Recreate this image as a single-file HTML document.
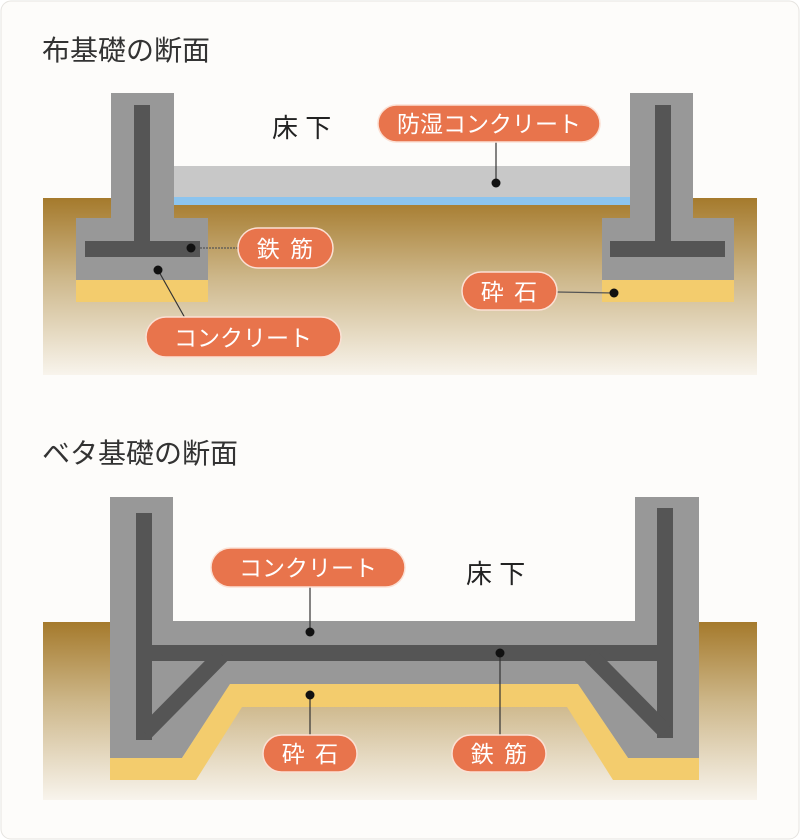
<!DOCTYPE html>
<html><head><meta charset="utf-8"><style>
html,body{margin:0;padding:0;background:#fff;}
svg{display:block;font-family:"Liberation Sans","Noto Sans CJK JP",sans-serif;}
</style></head><body>
<svg width="800" height="840" viewBox="0 0 800 840" xmlns="http://www.w3.org/2000/svg">
<defs>
<linearGradient id="g" x1="0" y1="0" x2="0" y2="1">
<stop offset="0" stop-color="#a57a2c"/><stop offset="0.45" stop-color="#cdb78a"/><stop offset="1" stop-color="#f8f4ec"/>
</linearGradient>
</defs>
<rect x="1" y="1" width="798" height="838" rx="10" fill="#fdfcfa" stroke="#e6e4e0"/>
<text x="42" y="60" font-size="28" fill="#333">布基礎の断面</text>
<rect x="43" y="198" width="714" height="177" fill="url(#g)"/>
<rect x="174" y="166" width="462" height="31" fill="#c8c8c8"/>
<rect x="174" y="197" width="462" height="8" fill="#8cc4ee"/>
<rect x="76" y="280" width="132" height="22" fill="#f3cc6d"/>
<rect x="76" y="218" width="132" height="62" fill="#989898"/>
<rect x="111" y="93" width="63" height="130" fill="#989898"/>
<rect x="134" y="105" width="16" height="145" fill="#555"/>
<rect x="85" y="241" width="115" height="16" fill="#555"/>
<rect x="602" y="280" width="132" height="22" fill="#f3cc6d"/>
<rect x="602" y="218" width="132" height="62" fill="#989898"/>
<rect x="630" y="93" width="63" height="130" fill="#989898"/>
<rect x="655" y="105" width="16" height="145" fill="#555"/>
<rect x="610" y="241" width="115" height="16" fill="#555"/>
<text x="272" y="137" font-size="26" fill="#222">床 下</text>
<line x1="496" y1="140" x2="496" y2="183" stroke="#333" stroke-width="1.2"/>
<circle cx="496" cy="183" r="4.5" fill="#111"/>
<line x1="191" y1="248" x2="238" y2="248" stroke="#555" stroke-width="1.2" stroke-dasharray="2,1"/>
<circle cx="191" cy="248" r="4.5" fill="#111"/>
<line x1="158" y1="270" x2="185" y2="318" stroke="#333" stroke-width="1.2"/>
<circle cx="158" cy="270" r="4.5" fill="#111"/>
<line x1="557" y1="292" x2="614" y2="293" stroke="#555" stroke-width="1.2"/>
<circle cx="614" cy="293" r="4.5" fill="#111"/>
<g font-size="23" fill="#fff" text-anchor="middle" stroke-width="1.5">
<rect x="378" y="105" width="222" height="37" rx="18.5" fill="#e8744c" stroke="#fbe0d4"/><text x="489" y="132">防湿コンクリート</text>
<rect x="238" y="228" width="95" height="40" rx="20" fill="#e8744c" stroke="#fbe0d4"/><text x="286" y="257" letter-spacing="2">鉄 筋</text>
<rect x="146" y="317" width="195" height="40" rx="20" fill="#e8744c" stroke="#fbe0d4"/><text x="243" y="346">コンクリート</text>
<rect x="462" y="272" width="95" height="38" rx="19" fill="#e8744c" stroke="#fbe0d4"/><text x="510" y="300" letter-spacing="2">砕 石</text>
</g>
<text x="42" y="463" font-size="28" fill="#333">ベタ基礎の断面</text>
<rect x="43" y="622" width="714" height="178" fill="url(#g)"/>
<polygon points="110,497 173,497 173,621 635,621 635,497 699,497 699,758 628,758 578,684 230,684 182,758 110,758" fill="#989898"/>
<polygon points="110,758 182,758 230,684 578,684 628,758 699,758 699,780 613,780 567,707 242,707 196,780 110,780" fill="#f3cc6d"/>
<rect x="136" y="513" width="16" height="227" fill="#555"/>
<rect x="657" y="508" width="16" height="230" fill="#555"/>
<rect x="136" y="645" width="537" height="16" fill="#555"/>
<line x1="222" y1="655" x2="145" y2="733" stroke="#555" stroke-width="16"/>
<line x1="590" y1="655" x2="665" y2="731" stroke="#555" stroke-width="16"/>
<text x="466" y="583" font-size="26" fill="#222">床 下</text>
<line x1="310" y1="587" x2="310" y2="632" stroke="#333" stroke-width="1.2"/>
<circle cx="310" cy="632" r="4.5" fill="#111"/>
<line x1="310" y1="695" x2="310" y2="735" stroke="#333" stroke-width="1.2"/>
<circle cx="310" cy="695" r="4.5" fill="#111"/>
<line x1="500" y1="653" x2="500" y2="735" stroke="#333" stroke-width="1.2"/>
<circle cx="500" cy="653" r="4.5" fill="#111"/>
<g font-size="23" fill="#fff" text-anchor="middle" stroke-width="1.5">
<rect x="211" y="548" width="194" height="39" rx="19.5" fill="#e8744c" stroke="#fbe0d4"/><text x="308" y="576">コンクリート</text>
<rect x="263" y="735" width="94" height="37" rx="18.5" fill="#e8744c" stroke="#fbe0d4"/><text x="311" y="762" letter-spacing="2">砕 石</text>
<rect x="452" y="735" width="94" height="37" rx="18.5" fill="#e8744c" stroke="#fbe0d4"/><text x="500" y="762" letter-spacing="2">鉄 筋</text>
</g>
</svg>
</body></html>
